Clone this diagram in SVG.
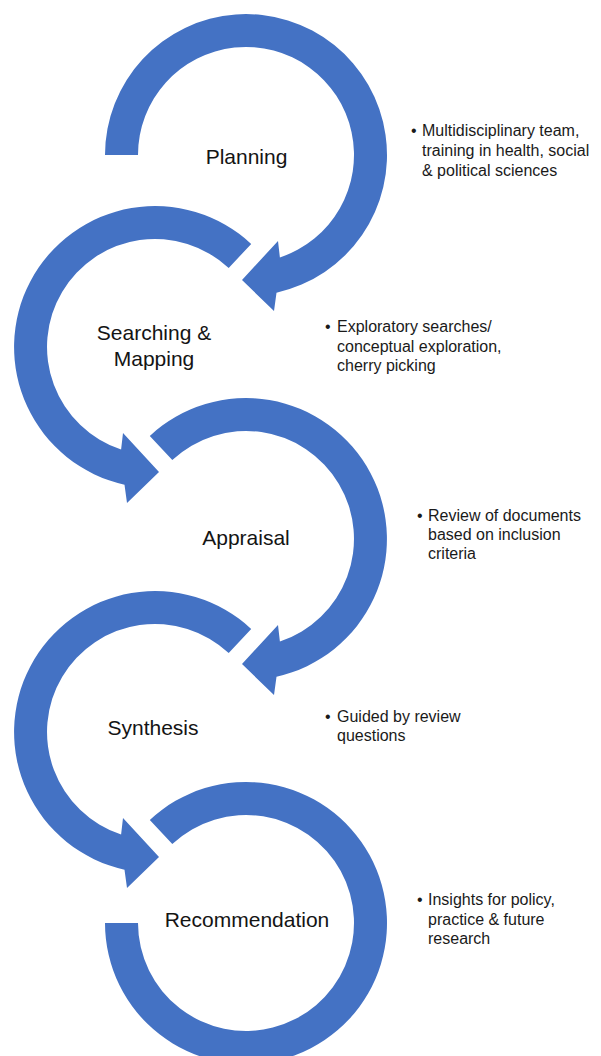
<svg xmlns="http://www.w3.org/2000/svg" width="601" height="1056" viewBox="0 0 601 1056">
<style>
.arc{fill:#4472C4;stroke:none}
.lbl{font-family:"Liberation Sans",Arial,sans-serif;font-size:21px;fill:#141414;text-anchor:middle}
.note{font-family:"Liberation Sans",Arial,sans-serif;font-size:16px;fill:#1a1a1a}
</style>
<defs>
<path id="arrowA" d="M -96.2,-103.1 A141,141 0 1 1 30.5,137.7 L 28,156 L -4,125 L 32,86 L 33.9,102.5 A108,108 0 1 0 -73.7,-79 Z"/>
</defs>
<rect width="601" height="1056" fill="#ffffff"/>
<g id="connectors">
<path class="arc" transform="translate(246,155)" d="M -141,0 A141,141 0 1 1 30.5,137.7 L 28,156 L -4,125 L 32,86 L 33.9,102.5 A108,108 0 1 0 -108,0 Z"/>
<use class="arc" href="#arrowA" transform="translate(155,347) scale(-1,1)"/>
<use class="arc" href="#arrowA" transform="translate(246,539)"/>
<use class="arc" href="#arrowA" transform="translate(155,732) scale(-1,1)"/>
<path class="arc" transform="translate(246,923)" d="M -96.2,-103.1 A141,141 0 1 1 -141,0 L -108,0 A108,108 0 1 0 -73.7,-79 Z"/>
</g>
<g id="planning">
<text class="lbl" x="246.5" y="164">Planning</text>
</g>
<g id="searching">
<text class="lbl" x="154" y="340">Searching &amp;</text>
<text class="lbl" x="154" y="366">Mapping</text>
</g>
<g id="appraisal">
<text class="lbl" x="246" y="545">Appraisal</text>
</g>
<g id="synthesis">
<text class="lbl" x="153" y="735">Synthesis</text>
</g>
<g id="recommendation">
<text class="lbl" x="247" y="927">Recommendation</text>
</g>
<g id="note-planning" class="note">
<text x="411" y="136">•</text>
<text x="422" y="136">Multidisciplinary team,</text>
<text x="422" y="156">training in health, social</text>
<text x="422" y="176">&amp; political sciences</text>
</g>
<g id="note-searching" class="note">
<text x="325" y="332">•</text>
<text x="337" y="332">Exploratory searches/</text>
<text x="337" y="352">conceptual exploration,</text>
<text x="337" y="371">cherry picking</text>
</g>
<g id="note-appraisal" class="note">
<text x="417" y="521">•</text>
<text x="428" y="521">Review of documents</text>
<text x="428" y="540">based on inclusion</text>
<text x="428" y="559">criteria</text>
</g>
<g id="note-synthesis" class="note">
<text x="325" y="722">•</text>
<text x="337" y="722">Guided by review</text>
<text x="337" y="741">questions</text>
</g>
<g id="note-recommendation" class="note">
<text x="417" y="905">•</text>
<text x="428" y="905">Insights for policy,</text>
<text x="428" y="925">practice &amp; future</text>
<text x="428" y="944">research</text>
</g>
</svg>
